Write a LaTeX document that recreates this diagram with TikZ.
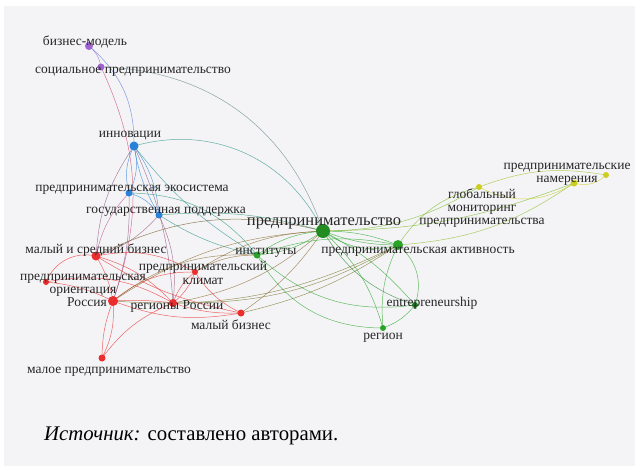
\documentclass[tikz,border=0pt]{standalone}
\usepackage{fontspec}
\setmainfont{Liberation Serif}
\definecolor{purp}{RGB}{160,100,210}
\definecolor{blu}{RGB}{40,130,215}
\definecolor{rd}{RGB}{235,45,45}
\definecolor{grn}{RGB}{40,165,40}
\definecolor{dgrn}{RGB}{20,130,20}
\definecolor{ylw}{RGB}{205,205,30}
\definecolor{bg}{RGB}{244,244,247}
\newcommand{\E}[4]{\draw[edge,#3] (#1) to[bend left=#4] (#2);}
\begin{document}
\begin{tikzpicture}[x=1pt,y=-1pt,
  edge/.style={line width=0.5pt,opacity=0.72},
  lbl/.style={font=\fontsize{13.5}{13.2}\selectfont,inner sep=0pt,align=center,text=black!85}]
\useasboundingbox (0,0) rectangle (635,466);
\fill[white] (0,0) rectangle (635,466);
\fill[bg] (4,6) rectangle (635,466);
% node positions
\coordinate (bm) at (89,46);
\coordinate (soc) at (101,67);
\coordinate (inn) at (134,146);
\coordinate (eco) at (129,193);
\coordinate (gos) at (159,215);
\coordinate (ent) at (323,231);
\coordinate (inst) at (257,255);
\coordinate (act) at (398,245);
\coordinate (glob) at (479,187);
\coordinate (nam) at (574,183);
\coordinate (nam2) at (606,175);
\coordinate (msb) at (96,256);
\coordinate (ori) at (46,282);
\coordinate (clim) at (195,272);
\coordinate (ros) at (113,301);
\coordinate (reg) at (173,303);
\coordinate (mb) at (241,313);
\coordinate (mp) at (102,358);
\coordinate (eng) at (415,305);
\coordinate (rgn) at (383,328);
% purple edges
\E{bm}{soc}{purp}{20}
\E{bm}{inn}{purp!40!blu}{25}
\E{soc}{ent}{purp!50!grn}{35}
\E{soc}{ros}{purp!40!rd}{22}
% blue edges
\E{inn}{eco}{blu}{20}
\E{inn}{eco}{blu}{-20}
\E{inn}{gos}{blu}{15}
\E{inn}{gos}{blu}{-10}
\E{inn}{ent}{blu!50!grn}{40}
\E{inn}{msb}{blu!50!rd}{-15}
\E{inn}{reg}{blu!50!rd}{10}
\E{inn}{inst}{blu!60!grn}{-10}
\E{eco}{gos}{blu}{20}
\E{eco}{inst}{blu!40!grn}{25}
\E{eco}{msb}{purp!60!rd}{-15}
\E{eco}{ros}{blu!50!rd}{10}
\E{gos}{inst}{blu!50!grn}{-10}
\E{gos}{ent}{blu!40!grn}{10}
\E{gos}{reg}{blu!40!rd}{15}
\E{gos}{msb}{blu!40!rd}{15}
% red edges
\E{msb}{ori}{rd}{-40}
\E{msb}{ros}{rd}{10}
\E{msb}{reg}{rd}{15}
\E{msb}{clim}{rd}{20}
\E{msb}{ent}{rd!50!grn!80!black}{20}
\E{msb}{mb}{rd}{-10}
\E{ori}{ros}{rd}{10}
\E{ori}{reg}{rd}{20}
\E{ros}{reg}{rd}{5}
\E{ros}{mb}{rd}{-15}
\E{ros}{mp}{rd}{15}
\E{ros}{mp}{rd}{-10}
\E{mp}{reg}{rd}{15}
\E{ros}{clim}{rd}{20}
\E{ros}{inst}{rd!50!grn}{20}
\E{ros}{ent}{rd!50!grn}{15}
\E{ros}{act}{rd!40!grn}{-15}
\E{reg}{clim}{rd}{-15}
\E{reg}{clim}{rd}{15}
\E{reg}{mb}{rd}{-10}
\E{reg}{ent}{rd!50!grn}{-15}
\E{reg}{act}{rd!40!grn}{-15}
\E{mb}{ent}{rd!50!grn}{-10}
\E{mb}{act}{rd!40!grn}{-10}
\E{clim}{mb}{rd}{-15}
\E{clim}{ent}{rd!50!grn}{15}
\E{clim}{inst}{rd!50!grn}{15}
% green edges
\E{ent}{inst}{grn}{15}
\E{ent}{inst}{grn}{-15}
\E{ent}{act}{grn}{10}
\E{ent}{act}{grn}{-10}
\E{ent}{act}{grn}{-25}
\E{ent}{eng}{grn!80!black}{-20}
\E{ent}{eng}{grn}{10}
\E{ent}{rgn}{grn}{15}
\E{ent}{glob}{grn!50!ylw}{-15}
\E{ent}{nam}{grn!50!ylw}{-10}
\E{act}{eng}{grn}{35}
\E{act}{rgn}{grn}{-15}
\E{act}{glob}{grn!50!ylw}{20}
\E{act}{nam}{grn!40!ylw}{-15}
\E{inst}{rgn}{grn}{-30}
\E{inst}{eng}{grn}{-25}
\E{inst}{act}{grn}{15}
\E{eng}{rgn}{grn}{15}
\E{glob}{nam}{ylw}{-30}
\E{glob}{nam2}{grn!30!ylw}{15}
\E{nam}{nam2}{ylw}{-30}
% dots
\foreach \n/\c/\r in {bm/purp/4,soc/purp/3.5,inn/blu/4.5,eco/blu/3.5,gos/blu/3.5,
  ent/grn!85!black/7,inst/grn/3.5,act/grn/5,glob/ylw/3,nam/ylw/3.5,nam2/ylw/3,
  msb/rd/4.5,ori/rd/3,clim/rd/3,ros/rd/5,reg/rd/4,mb/rd/3.5,mp/rd/3.5,eng/dgrn/3,rgn/grn/3}
  {\fill[\c] (\n) circle (\r);}
% labels
\node[lbl] (lbm) at (85,42) {бизнес-модель};
\node[lbl] (lsoc) at (133,72) {социальное предпринимательство};
\node[lbl] (linn) at (130,136) {инновации};
\node[lbl] (leco) at (132,190) {предпринимательская экосистема};
\node[lbl] (lgos) at (166,212) {государственная поддержка};
\node[lbl,font=\fontsize{16.5}{16}\selectfont] (lent) at (324,223) {предпринимательство};
\node[lbl] (linst) at (266,253) {институты};
\node[lbl] (lact) at (418,252) {предпринимательская активность};
\node[lbl] (lglob) at (482,208) {глобальный\\мониторинг\\предпринимательства};
\node[lbl] (lnam) at (567,174) {предпринимательские\\намерения};
\node[lbl] (lmsb) at (96,250) {малый и средний бизнес};
\node[lbl] (lori) at (83,285) {предпринимательская\\ориентация};
\node[lbl] (lclim) at (203,273) {предпринимательский\\климат};
\node[lbl] (lros) at (87,302) {Россия};
\node[lbl] (lreg) at (177,307) {регионы России};
\node[lbl] (lmb) at (231,325) {малый бизнес};
\node[lbl] (lmp) at (109,372) {малое предпринимательство};
\node[lbl] (leng) at (432,303) {entrepreneurship};
\node[lbl] (lrgn) at (383,338) {регион};
\node[anchor=west,inner sep=0pt,font=\fontsize{20.8}{20}\selectfont] (cap) at (44,436) {\textit{Источник:} составлено авторами.};
\end{tikzpicture}
\end{document}
